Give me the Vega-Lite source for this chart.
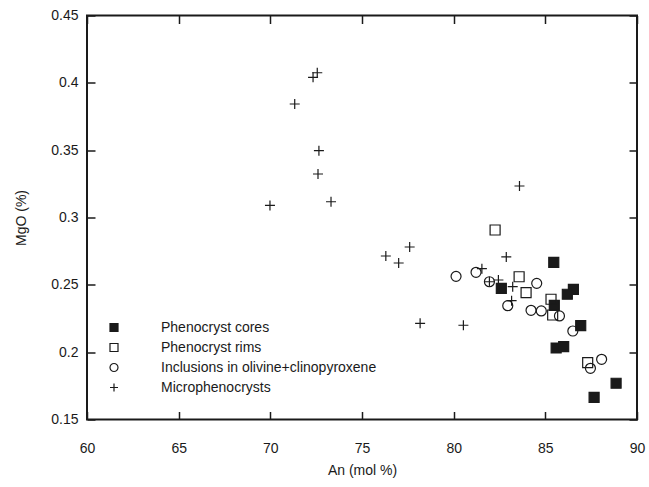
{
  "$schema": "https://vega.github.io/schema/vega-lite/v6.json",
  "width": 550,
  "height": 404,
  "autosize": "none",
  "padding": {"left": 87, "top": 15.5, "right": 12, "bottom": 67.5},
  "background": "white",
  "config": {
    "view": {"stroke": null},
    "font": "Liberation Sans",
    "axis": {
      "grid": false,
      "domain": false,
      "offset": -8,
      "ticks": true,
      "tickColor": "#1a1a1a",
      "tickWidth": 1.5,
      "tickSize": 8,
      "labelFont": "Liberation Sans",
      "labelFontSize": 14,
      "labelColor": "#1a1a1a",
      "titleFont": "Liberation Sans",
      "titleFontSize": 14,
      "titleFontWeight": "normal",
      "titleColor": "#1a1a1a"
    },
    "legend": {
      "orient": "none",
      "legendX": 20,
      "legendY": 305,
      "padding": 0,
      "symbolSize": 64,
      "symbolStrokeWidth": 1.2,
      "labelFont": "Liberation Sans",
      "labelFontSize": 14,
      "labelColor": "#1a1a1a",
      "labelOffset": 40,
      "rowPadding": 6,
      "labelLimit": 400
    }
  },
  "data": {
    "values": [
      {"An": 85.46, "MgO": 0.2667, "type": "Phenocryst cores"},
      {"An": 82.60, "MgO": 0.2474, "type": "Phenocryst cores"},
      {"An": 86.53, "MgO": 0.2467, "type": "Phenocryst cores"},
      {"An": 86.20, "MgO": 0.2430, "type": "Phenocryst cores"},
      {"An": 85.49, "MgO": 0.2348, "type": "Phenocryst cores"},
      {"An": 86.93, "MgO": 0.2197, "type": "Phenocryst cores"},
      {"An": 85.59, "MgO": 0.2031, "type": "Phenocryst cores"},
      {"An": 86.00, "MgO": 0.2041, "type": "Phenocryst cores"},
      {"An": 88.86, "MgO": 0.1769, "type": "Phenocryst cores"},
      {"An": 87.66, "MgO": 0.1665, "type": "Phenocryst cores"},
      {"An": 82.26, "MgO": 0.2907, "type": "Phenocryst rims"},
      {"An": 83.57, "MgO": 0.2560, "type": "Phenocryst rims"},
      {"An": 83.95, "MgO": 0.2442, "type": "Phenocryst rims"},
      {"An": 85.31, "MgO": 0.2393, "type": "Phenocryst rims"},
      {"An": 85.40, "MgO": 0.2276, "type": "Phenocryst rims"},
      {"An": 87.31, "MgO": 0.1922, "type": "Phenocryst rims"},
      {"An": 80.13, "MgO": 0.2563, "type": "Inclusions in olivine+clinopyroxene"},
      {"An": 81.22, "MgO": 0.2593, "type": "Inclusions in olivine+clinopyroxene"},
      {"An": 81.95, "MgO": 0.2523, "type": "Inclusions in olivine+clinopyroxene"},
      {"An": 84.53, "MgO": 0.2511, "type": "Inclusions in olivine+clinopyroxene"},
      {"An": 82.95, "MgO": 0.2345, "type": "Inclusions in olivine+clinopyroxene"},
      {"An": 84.22, "MgO": 0.2311, "type": "Inclusions in olivine+clinopyroxene"},
      {"An": 84.78, "MgO": 0.2306, "type": "Inclusions in olivine+clinopyroxene"},
      {"An": 85.77, "MgO": 0.2269, "type": "Inclusions in olivine+clinopyroxene"},
      {"An": 86.50, "MgO": 0.2157, "type": "Inclusions in olivine+clinopyroxene"},
      {"An": 88.07, "MgO": 0.1947, "type": "Inclusions in olivine+clinopyroxene"},
      {"An": 87.46, "MgO": 0.1880, "type": "Inclusions in olivine+clinopyroxene"},
      {"An": 72.56, "MgO": 0.4075, "type": "Microphenocrysts"},
      {"An": 72.33, "MgO": 0.4041, "type": "Microphenocrysts"},
      {"An": 71.33, "MgO": 0.3843, "type": "Microphenocrysts"},
      {"An": 72.65, "MgO": 0.3496, "type": "Microphenocrysts"},
      {"An": 72.60, "MgO": 0.3323, "type": "Microphenocrysts"},
      {"An": 73.31, "MgO": 0.3117, "type": "Microphenocrysts"},
      {"An": 69.98, "MgO": 0.3090, "type": "Microphenocrysts"},
      {"An": 76.30, "MgO": 0.2714, "type": "Microphenocrysts"},
      {"An": 77.00, "MgO": 0.2662, "type": "Microphenocrysts"},
      {"An": 77.60, "MgO": 0.2781, "type": "Microphenocrysts"},
      {"An": 78.17, "MgO": 0.2214, "type": "Microphenocrysts"},
      {"An": 80.53, "MgO": 0.2200, "type": "Microphenocrysts"},
      {"An": 81.54, "MgO": 0.2620, "type": "Microphenocrysts"},
      {"An": 81.95, "MgO": 0.2523, "type": "Microphenocrysts"},
      {"An": 82.44, "MgO": 0.2536, "type": "Microphenocrysts"},
      {"An": 82.87, "MgO": 0.2707, "type": "Microphenocrysts"},
      {"An": 83.22, "MgO": 0.2486, "type": "Microphenocrysts"},
      {"An": 83.16, "MgO": 0.2382, "type": "Microphenocrysts"},
      {"An": 83.59, "MgO": 0.3234, "type": "Microphenocrysts"}
    ]
  },
  "layer": [
    {
      "data": {"values": [{}]},
      "mark": {"type": "rect", "filled": false, "stroke": "#1a1a1a", "strokeWidth": 2},
      "encoding": {
        "x": {"datum": 60, "type": "quantitative", "scale": {"domain": [60, 90], "nice": false, "zero": false}, "axis": null},
        "x2": {"datum": 90},
        "y": {"datum": 0.15, "type": "quantitative", "scale": {"domain": [0.15, 0.45], "nice": false, "zero": false}, "axis": null},
        "y2": {"datum": 0.45}
      }
    },
    {
      "mark": {"type": "point", "strokeWidth": 1.2, "opacity": 1, "size": 100},
      "encoding": {
        "x": {
          "field": "An", "type": "quantitative",
          "scale": {"domain": [60, 90], "nice": false, "zero": false},
          "axis": {"title": "An (mol %)", "values": [60, 65, 70, 75, 80, 85, 90], "labelPadding": 22, "titlePadding": 8, "labelFlush": false}
        },
        "y": {
          "field": "MgO", "type": "quantitative",
          "scale": {"domain": [0.15, 0.45], "nice": false, "zero": false},
          "axis": {"title": "MgO (%)", "values": [0.15, 0.2, 0.25, 0.3, 0.35, 0.4, 0.45], "format": "~g", "labelPadding": 9, "titlePadding": 22, "labelFlush": false}
        },
        "shape": {
          "field": "type", "type": "nominal",
          "scale": {
            "domain": ["Phenocryst cores", "Phenocryst rims", "Inclusions in olivine+clinopyroxene", "Microphenocrysts"],
            "range": ["square", "square", "circle", "M-1,0H1M0,-1V1"]
          },
          "legend": {"title": null}
        },
        "fill": {
          "field": "type", "type": "nominal",
          "scale": {
            "domain": ["Phenocryst cores", "Phenocryst rims", "Inclusions in olivine+clinopyroxene", "Microphenocrysts"],
            "range": ["#1a1a1a", "transparent", "transparent", "transparent"]
          },
          "legend": {"title": null}
        },
        "stroke": {
          "field": "type", "type": "nominal",
          "scale": {
            "domain": ["Phenocryst cores", "Phenocryst rims", "Inclusions in olivine+clinopyroxene", "Microphenocrysts"],
            "range": ["#1a1a1a", "#1a1a1a", "#1a1a1a", "#1a1a1a"]
          },
          "legend": {"title": null}
        }
      }
    },
    {
      "data": {"values": [{}]},
      "mark": {"type": "point", "opacity": 0},
      "encoding": {
        "x": {
          "datum": 75, "type": "quantitative",
          "scale": {"domain": [60, 90], "nice": false, "zero": false},
          "axis": {"orient": "top", "title": null, "labels": false, "values": [60, 65, 70, 75, 80, 85, 90]}
        },
        "y": {
          "datum": 0.3, "type": "quantitative",
          "scale": {"domain": [0.15, 0.45], "nice": false, "zero": false},
          "axis": {"orient": "right", "title": null, "labels": false, "values": [0.15, 0.2, 0.25, 0.3, 0.35, 0.4, 0.45]}
        }
      }
    }
  ],
  "resolve": {
    "scale": {"x": "independent", "y": "independent"},
    "axis": {"x": "independent", "y": "independent"}
  }
}
